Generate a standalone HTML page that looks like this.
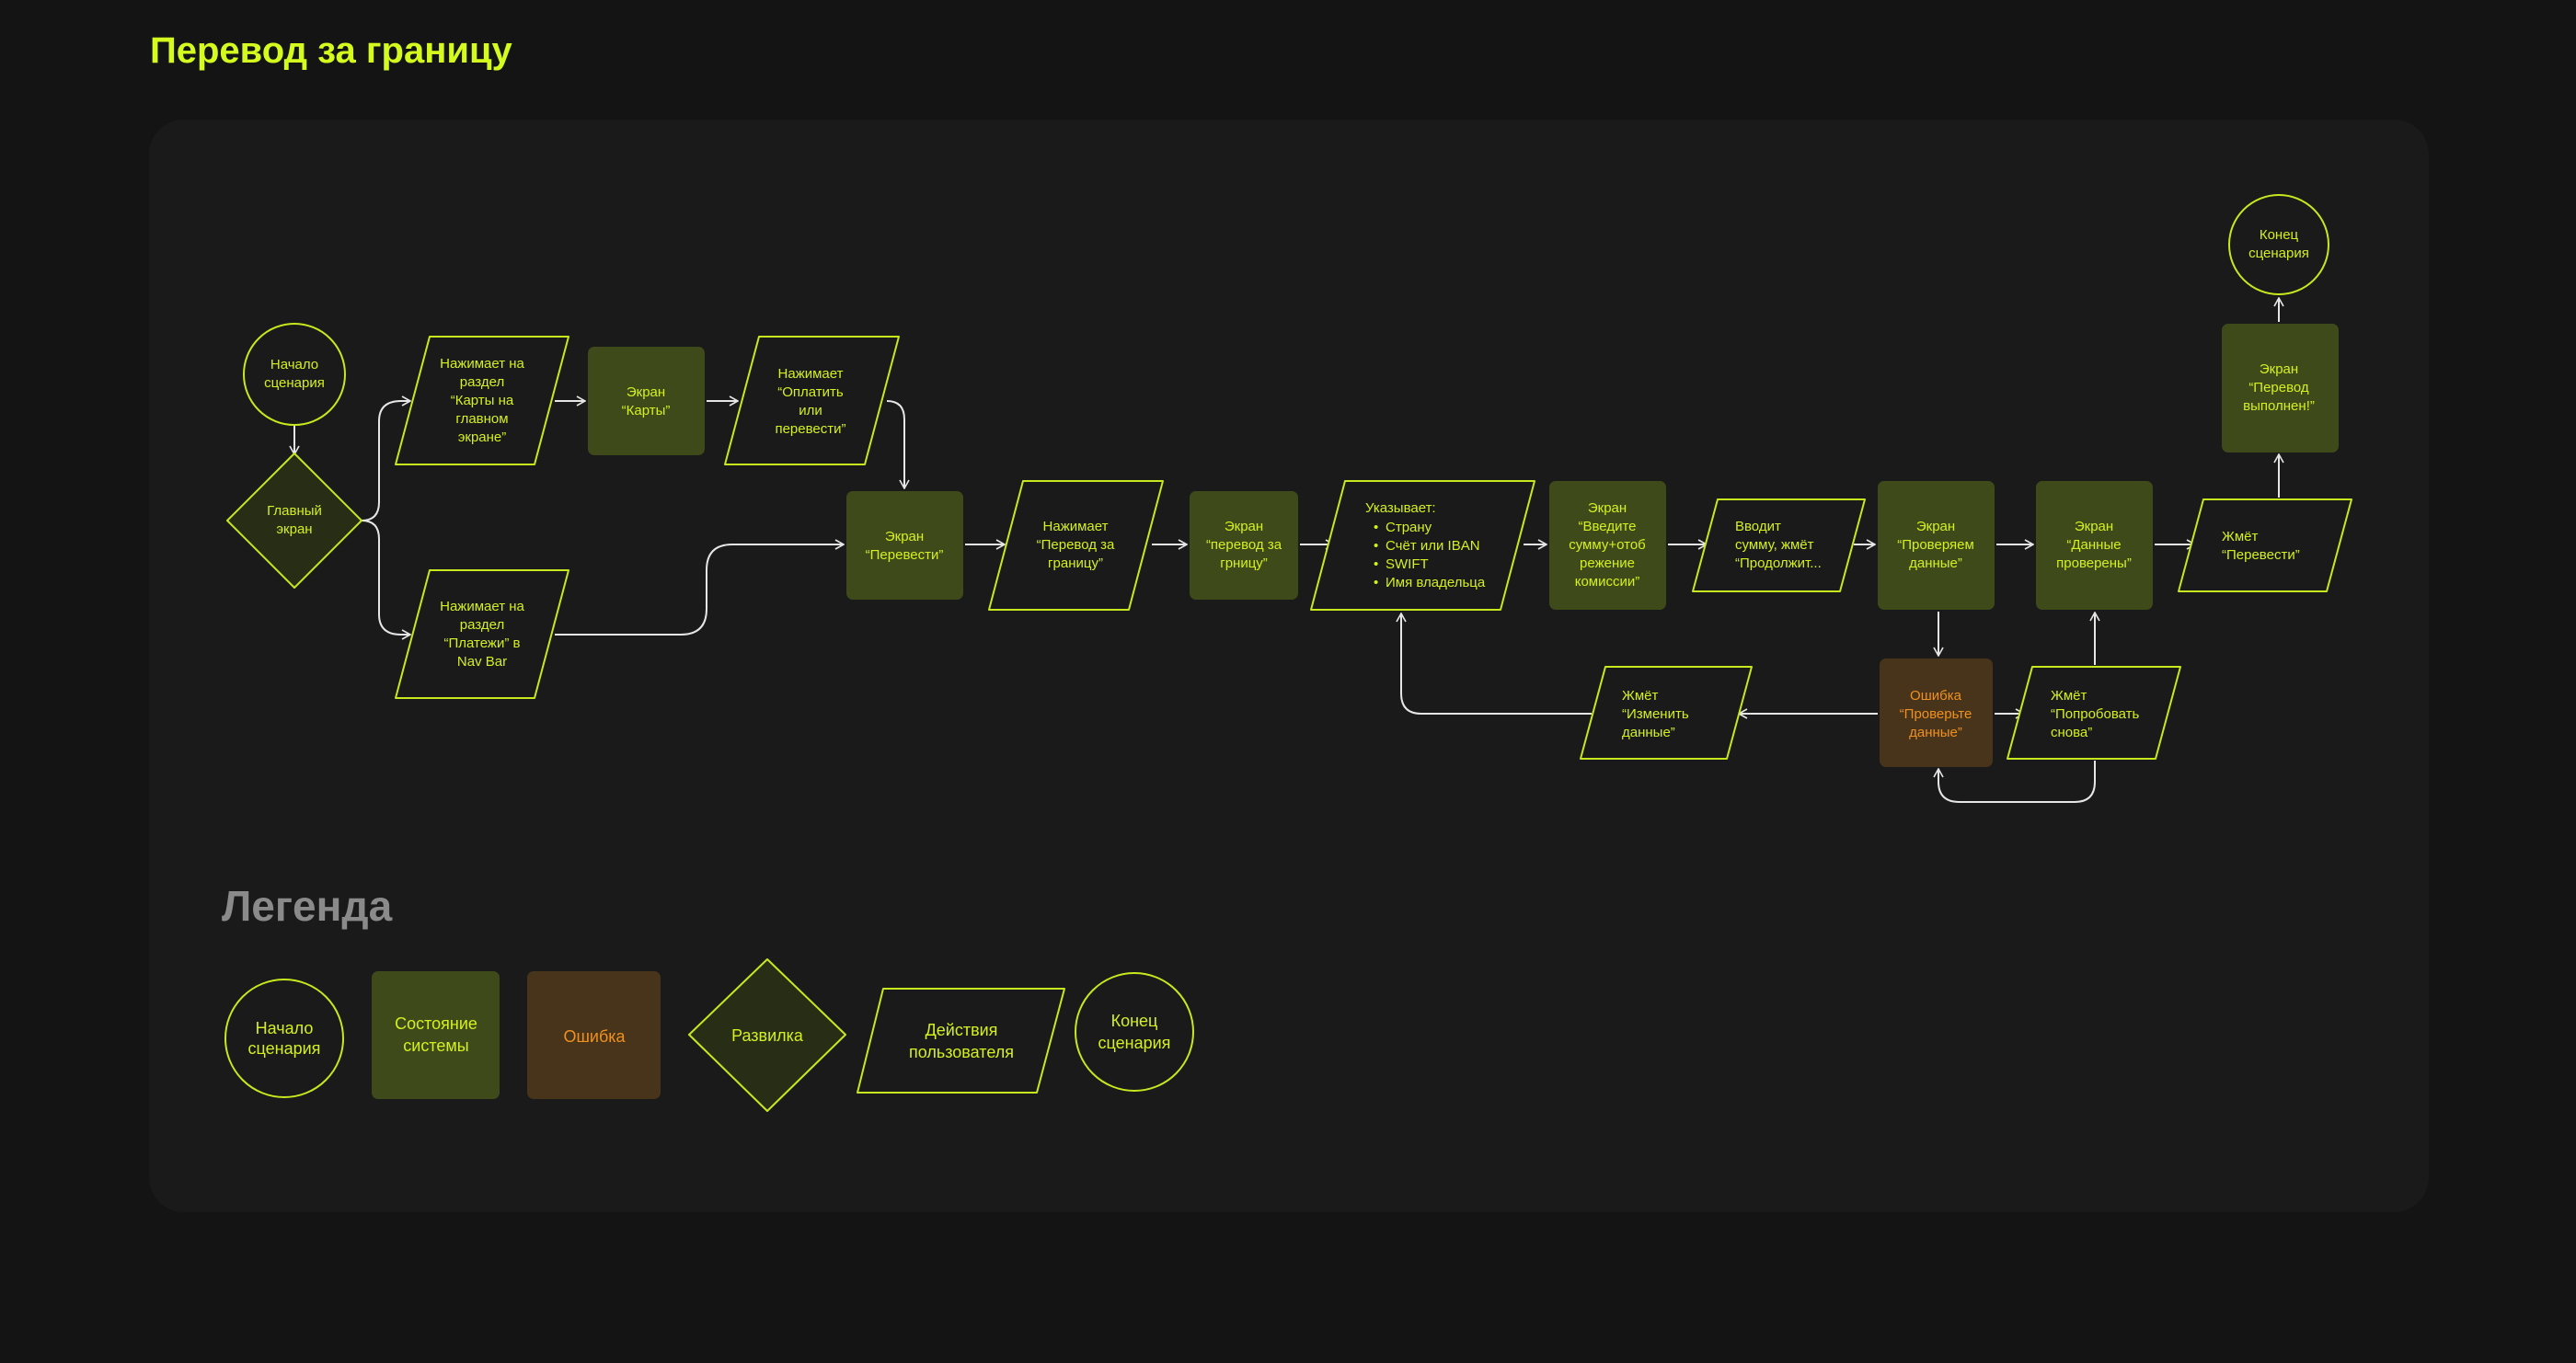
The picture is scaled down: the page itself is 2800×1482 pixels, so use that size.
<!DOCTYPE html>
<html><head><meta charset="utf-8"><style>
html,body{margin:0;padding:0;background:#141414;}
body{width:2800px;height:1482px;overflow:hidden;position:relative;font-family:"Liberation Sans","Noto Sans CJK SC",sans-serif;}
</style></head><body>
<svg width="2800" height="1482" xmlns="http://www.w3.org/2000/svg" style="position:absolute;left:0;top:0">
<defs>
<marker id="a" viewBox="0 0 12 12" refX="11" refY="6" markerWidth="12" markerHeight="12" markerUnits="userSpaceOnUse" orient="auto">
<path d="M2,1 L11,6 L2,11" fill="none" stroke="#e6e6e6" stroke-width="1.6"/>
</marker>
</defs>
<rect width="2800" height="1482" fill="#141414"/>
<text x="163" y="68" font-size="40" font-weight="bold" fill="#d4fa1e" font-family="Liberation Sans, sans-serif">Перевод за границу</text>
<rect x="162" y="130" width="2478" height="1188" rx="38" fill="#1a1a1a"/>

<g fill="none" stroke="#e6e6e6" stroke-width="2" marker-end="url(#a)">
<path d="M320,463 L320,494"/>
<path d="M393,566 Q412,566 412,546 L412,458 Q412,436 436,436 L446,436"/>
<path d="M393,566 Q412,566 412,586 L412,668 Q412,690 436,690 L446,690"/>
<path d="M603,436 L636,436"/>
<path d="M768,436 L802,436"/>
<path d="M964,436 Q983,436 983,456 L983,531"/>
<path d="M603,690 L740,690 Q768,690 768,662 L768,620 Q768,592 796,592 L917,592"/>
<path d="M1049,592 L1092,592"/>
<path d="M1252,592 L1290,592"/>
<path d="M1413,592 L1450,592"/>
<path d="M1656,592 L1681,592"/>
<path d="M1813,592 L1855,592"/>
<path d="M2015,592 L2038,592"/>
<path d="M2170,592 L2210,592"/>
<path d="M2342,592 L2386,592"/>
<path d="M2107,665 L2107,713"/>
<path d="M2168,776 L2200,776"/>
<path d="M2041,776 L1890,776"/>
<path d="M1730,776 L1545,776 Q1523,776 1523,754 L1523,667"/>
<path d="M2277,827 L2277,850 Q2277,872 2255,872 L2130,872 Q2107,872 2107,850 L2107,836"/>
<path d="M2277,723 L2277,666"/>
<path d="M2477,541 L2477,494"/>
<path d="M2477,350 L2477,324"/>
</g>

<g stroke="#c8e81e" stroke-width="2" stroke-linejoin="round">
<circle cx="320" cy="407" r="55" fill="none"/>
<path d="M320,493 L393,566 L320,639 L247,566 Z" fill="#282d16"/>
<path d="M467,366 L618,366 L581,505 L430,505 Z" fill="#1a1a1a"/>
<path d="M825,366 L977,366 L940,505 L788,505 Z" fill="#1a1a1a"/>
<path d="M467,620 L618,620 L581,759 L430,759 Z" fill="#1a1a1a"/>
<path d="M1112,523 L1264,523 L1227,663 L1075,663 Z" fill="#1a1a1a"/>
<path d="M1462,523 L1668,523 L1631,663 L1425,663 Z" fill="#1a1a1a"/>
<path d="M1867,543 L2027,543 L2000,643 L1840,643 Z" fill="#1a1a1a"/>
<path d="M2395,543 L2556,543 L2529,643 L2368,643 Z" fill="#1a1a1a"/>
<path d="M1745,725 L1904,725 L1877,825 L1718,825 Z" fill="#1a1a1a"/>
<path d="M2209,725 L2370,725 L2343,825 L2182,825 Z" fill="#1a1a1a"/>
<circle cx="2477" cy="266" r="54" fill="none"/>
</g>
<g fill="#3e4a1a">
<rect x="639" y="377" width="127" height="118" rx="7"/>
<rect x="920" y="534" width="127" height="118" rx="7"/>
<rect x="1293" y="534" width="118" height="118" rx="7"/>
<rect x="1684" y="523" width="127" height="140" rx="7"/>
<rect x="2041" y="523" width="127" height="140" rx="7"/>
<rect x="2213" y="523" width="127" height="140" rx="7"/>
<rect x="2415" y="352" width="127" height="140" rx="7"/>
<rect x="2043" y="716" width="123" height="118" rx="7" fill="#47341a"/>
</g>

<g font-size="15" fill="#d4f01e" text-anchor="middle">
<text x="320" y="401">Начало</text><text x="320" y="421">сценария</text>
<text x="320" y="560">Главный</text><text x="320" y="580">экран</text>
<text x="524" y="400">Нажимает на</text><text x="524" y="420">раздел</text><text x="524" y="440">“Карты на</text><text x="524" y="460">главном</text><text x="524" y="480">экране”</text>
<text x="702" y="431">Экран</text><text x="702" y="451">“Карты”</text>
<text x="881" y="411">Нажимает</text><text x="881" y="431">“Оплатить</text><text x="881" y="451">или</text><text x="881" y="471">перевести”</text>
<text x="524" y="664">Нажимает на</text><text x="524" y="684">раздел</text><text x="524" y="704">“Платежи” в</text><text x="524" y="724">Nav Bar</text>
<text x="983" y="588">Экран</text><text x="983" y="608">“Перевести”</text>
<text x="1169" y="577">Нажимает</text><text x="1169" y="597">“Перевод за</text><text x="1169" y="617">границу”</text>
<text x="1352" y="577">Экран</text><text x="1352" y="597">“перевод за</text><text x="1352" y="617">грницу”</text>
<text x="1747" y="557">Экран</text><text x="1747" y="577">“Введите</text><text x="1747" y="597">сумму+отоб</text><text x="1747" y="617">режение</text><text x="1747" y="637">комиссии”</text>
<text x="2104" y="577">Экран</text><text x="2104" y="597">“Проверяем</text><text x="2104" y="617">данные”</text>
<text x="2276" y="577">Экран</text><text x="2276" y="597">“Данные</text><text x="2276" y="617">проверены”</text>
<text x="2477" y="260">Конец</text><text x="2477" y="280">сценария</text>
<text x="2477" y="406">Экран</text><text x="2477" y="426">“Перевод</text><text x="2477" y="446">выполнен!”</text>
<g fill="#f0901e"><text x="2104" y="761">Ошибка</text><text x="2104" y="781">“Проверьте</text><text x="2104" y="801">данные”</text></g>
</g>
<g font-size="15" fill="#d4f01e">
<text x="1484" y="557">Указывает:</text>
<text x="1506" y="578">Страну</text><text x="1506" y="598">Счёт или IBAN</text><text x="1506" y="618">SWIFT</text><text x="1506" y="638">Имя владельца</text>
<text x="1493" y="578">•</text><text x="1493" y="598">•</text><text x="1493" y="618">•</text><text x="1493" y="638">•</text>
<text x="1886" y="577">Вводит</text><text x="1886" y="597">сумму, жмёт</text><text x="1886" y="617">“Продолжит...</text>
<text x="2415" y="588">Жмёт</text><text x="2415" y="608">“Перевести”</text>
<text x="1763" y="761">Жмёт</text><text x="1763" y="781">“Изменить</text><text x="1763" y="801">данные”</text>
<text x="2229" y="761">Жмёт</text><text x="2229" y="781">“Попробовать</text><text x="2229" y="801">снова”</text>
</g>

<text x="241" y="1001" font-size="46" font-weight="bold" fill="#8a8a8a">Легенда</text>
<g stroke="#c8e81e" stroke-width="2" stroke-linejoin="round">
<circle cx="309" cy="1129" r="64" fill="none"/>
<path d="M834,1043 L919,1125 L834,1208 L749,1125 Z" fill="#282d16"/>
<path d="M960,1075 L1157,1075 L1127,1188 L932,1188 Z" fill="#1a1a1a"/>
<circle cx="1233" cy="1122" r="64" fill="none"/>
</g>
<rect x="404" y="1056" width="139" height="139" rx="7" fill="#3e4a1a"/>
<rect x="573" y="1056" width="145" height="139" rx="7" fill="#47341a"/>
<g font-size="18" fill="#d4f01e" text-anchor="middle">
<text x="309" y="1124">Начало</text><text x="309" y="1146">сценария</text>
<text x="474" y="1119">Состояние</text><text x="474" y="1143">системы</text>
<text x="646" y="1133" fill="#f0901e">Ошибка</text>
<text x="834" y="1132">Развилка</text>
<text x="1045" y="1126">Действия</text><text x="1045" y="1150">пользователя</text>
<text x="1233" y="1116">Конец</text><text x="1233" y="1140">сценария</text>
</g>
</svg>
</body></html>
